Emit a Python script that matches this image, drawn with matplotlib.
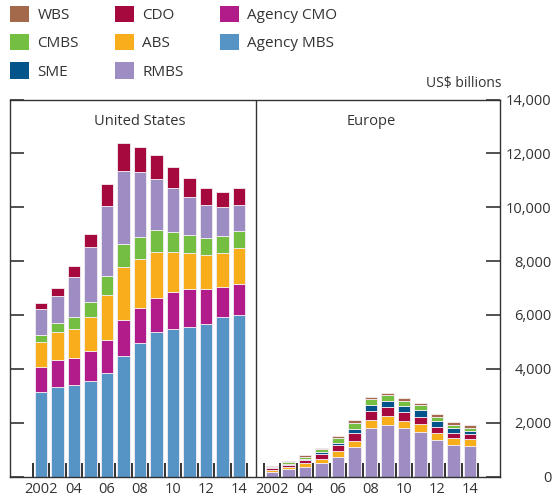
import numpy as np
import matplotlib
matplotlib.use("Agg")
import matplotlib.pyplot as plt
from matplotlib.patches import Patch

plt.rcParams["font.family"] = ["Open Sans", "DejaVu Sans"]

years = list(range(2002, 2015))
year_labels = ["2002", "", "04", "", "06", "", "08", "", "10", "", "12", "", "14"]

# United States, US$ billions (stacked bottom -> top)
us_agency_mbs = [3150, 3340, 3390, 3550, 3845, 4470, 4960, 5370, 5495, 5555, 5670, 5930, 6015]
us_agency_cmo = [930, 990, 1015, 1105, 1240, 1340, 1310, 1275, 1340, 1400, 1290, 1115, 1140]
us_abs = [905, 1030, 1090, 1285, 1660, 1955, 1810, 1690, 1500, 1340, 1265, 1265, 1340]
us_cmbs = [285, 335, 425, 535, 705, 855, 830, 805, 745, 690, 645, 620, 640]
us_rmbs = [945, 1025, 1485, 2045, 2590, 2730, 2380, 1920, 1650, 1410, 1225, 1065, 955]
us_cdo = [245, 285, 395, 485, 820, 1040, 945, 880, 770, 685, 605, 585, 605]

# Europe, US$ billions (stacked bottom -> top)
eu_rmbs = [165, 265, 365, 500, 725, 1110, 1815, 1925, 1815, 1665, 1355, 1185, 1145]
eu_abs = [90, 100, 140, 160, 225, 225, 275, 310, 250, 295, 270, 260, 250]
eu_cdo = [50, 75, 110, 185, 225, 295, 355, 345, 345, 260, 225, 185, 175]
eu_sme = [25, 35, 50, 65, 85, 150, 200, 225, 210, 240, 210, 165, 135]
eu_cmbs = [35, 65, 75, 110, 175, 225, 225, 225, 200, 195, 160, 135, 110]
eu_wbs = [35, 35, 50, 50, 75, 75, 85, 85, 100, 75, 90, 90, 90]

colors = {
    "WBS": "#A4694A",
    "CDO": "#A5093D",
    "Agency CMO": "#B21B8A",
    "CMBS": "#74BE42",
    "ABS": "#F8AE1A",
    "Agency MBS": "#5794C6",
    "SME": "#02548A",
    "RMBS": "#9E8DC3",
}
text_col = "#333333"

us_stack = [("Agency MBS", us_agency_mbs), ("Agency CMO", us_agency_cmo), ("ABS", us_abs),
            ("CMBS", us_cmbs), ("RMBS", us_rmbs), ("CDO", us_cdo)]
eu_stack = [("RMBS", eu_rmbs), ("ABS", eu_abs), ("CDO", eu_cdo),
            ("SME", eu_sme), ("CMBS", eu_cmbs), ("WBS", eu_wbs)]

fig = plt.figure(figsize=(5.55, 4.97), dpi=100)
ax = fig.add_axes([10 / 555, (497 - 476.5) / 497, 490 / 555, (476.5 - 99.5) / 497])

n = len(years)
eu_offset = 14
x_us = np.arange(n)
x_eu = np.arange(n) + eu_offset
width = 0.78

for xs, stack in ((x_us, us_stack), (x_eu, eu_stack)):
    bottom = np.zeros(n)
    for name, vals in stack:
        vals = np.array(vals, dtype=float)
        ax.bar(xs, vals, width, bottom=bottom, color=colors[name],
               edgecolor="#f4eef4", linewidth=0.6)
        bottom += vals

ax.set_xlim(-1.88, eu_offset + 13.82)
ax.set_ylim(0, 14000)
ax.axvline(13.03, color=text_col, linewidth=1.0)

for s in ax.spines.values():
    s.set_color(text_col)
    s.set_linewidth(1.0)

# x axis: labels at bar centres, separator ticks between bars
ax.set_xticks(np.concatenate([x_us, x_eu]))
ax.set_xticklabels(year_labels + year_labels, fontsize=10.5, color=text_col)
ax.set_xticks(np.concatenate([x_us - 0.5, [12.5], x_eu - 0.5, [eu_offset + 12.5]]), minor=True)
ax.tick_params(axis="x", which="major", length=0, pad=4)
ax.tick_params(axis="x", which="minor", direction="in", length=10, width=1.4, color=text_col)

# y axis: inward ticks on both sides, labels on the right
ax.set_yticks(np.arange(0, 14001, 2000))
ax.tick_params(axis="y", which="major", direction="in", length=10, width=1.2, color=text_col,
               left=True, right=True, labelleft=False, labelright=True,
               labelsize=10.5, labelcolor=text_col, pad=37)
ax.yaxis.set_major_formatter(matplotlib.ticker.FuncFormatter(lambda v, p: f"{int(v):,}"))
for lbl in ax.get_yticklabels():
    lbl.set_ha("right")

ax.text(6.0, 13200, "United States", ha="center", va="center", fontsize=10.5, color=text_col)
ax.text(eu_offset + 6.0, 13200, "Europe", ha="center", va="center", fontsize=10.5, color=text_col)
fig.text(502 / 555, 1 - 84 / 497, "US$ billions", ha="right", va="center", fontsize=10, color=text_col)

legend_order = ["WBS", "CMBS", "SME", "CDO", "ABS", "RMBS", "Agency CMO", "Agency MBS"]
handles = [Patch(facecolor=colors[k], edgecolor="none") for k in legend_order]
fig.legend(handles, legend_order, ncol=3, loc="upper left", bbox_to_anchor=(10 / 555, 1 - 6 / 497),
           frameon=False, fontsize=11, labelcolor=text_col, handlelength=1.25,
           handleheight=1.25, handletextpad=0.55, columnspacing=2.35, labelspacing=0.72,
           borderpad=0, borderaxespad=0)

fig.savefig("out.png", dpi=100)
plt.close(fig)
